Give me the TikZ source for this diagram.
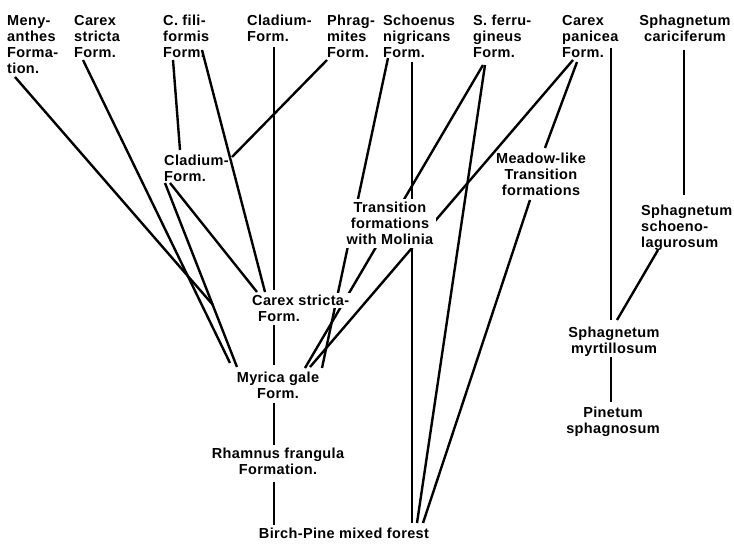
\documentclass[tikz,border=0pt]{standalone}
\usepackage{fontspec}
\newfontfamily\lblfam{Liberation Sans}[LetterSpace=2.5]
\usetikzlibrary{backgrounds,calc}
\newcommand\lblfont{\lblfam\bfseries\fontsize{14.5}{16}\selectfont}
\begin{document}
\begin{tikzpicture}[x=1pt,y=-1pt,
  lbl/.style={font=\lblfont, inner sep=0pt, align=left, anchor=north west},
  lblc/.style={font=\lblfont, inner sep=0pt, align=center, anchor=north},
  conn/.style={line width=2.4pt, black}]
\useasboundingbox (0,0) rectangle (734,545);
% top row
\node[lbl] (men)  at (7,15)   {Meny-\\anthes\\Forma-\\tion.};
\node[lbl] (cs1)  at (74,15)  {Carex\\stricta\\Form.};
\node[lbl] (cfil) at (163,15) {C. fili-\\formis\\Form.};
\node[lbl] (cl1)  at (247,15) {Cladium-\\Form.};
\node[lbl] (phr)  at (327,15) {Phrag-\\mites\\Form.};
\node[lbl] (sch)  at (383,15) {Schoenus\\nigricans\\Form.};
\node[lbl] (sfe)  at (473,15) {S. ferru-\\gineus\\Form.};
\node[lbl] (cpa)  at (562,15) {Carex\\panicea\\Form.};
\node[lblc] (scar) at (685,15) {Sphagnetum\\cariciferum};
% middle
\node[lbl] (cl2)  at (164,155) {Cladium-\\Form.};
\node[lbl] (csf)  at (250,293) {\fboxsep=2pt\colorbox{white}{Carex stricta-}\\\hspace*{8pt}Form.};
\node[lblc, fill=white, inner sep=3pt] (mol) at (390,199) {Transition\\formations\\with Molinia};
\node[lblc] (mea) at (541,153) {Meadow-like\\Transition\\formations};
\node[lblc] (myr) at (278,372) {Myrica gale\\Form.};
\node[lblc] (rha) at (278,448) {Rhamnus frangula\\Formation.};
\node[lblc] (bir) at (344,528) {Birch-Pine mixed forest};
\node[lbl] (ssch) at (641,205) {Sphagnetum\\schoeno-\\lagurosum};
\node[lblc] (smyr) at (614,327) {Sphagnetum\\myrtillosum};
\node[lblc] (pin) at (613,407) {Pinetum\\sphagnosum};
\begin{pgfonlayer}{background}
\fill[white] (0,0) rectangle (734,545);
\draw[conn] ([shift={(8,62)}]men.north west) -- ([shift={(49,150)}]cl2.north west);
\draw[conn] ([shift={(9,45)}]cs1.north west) -- ([shift={(-48,-9)}]myr.north);
\draw[conn] ([shift={(10,45)}]cfil.north west) -- ([shift={(16,-5)}]cl2.north west);
\draw[conn] ([shift={(39,35)}]cfil.north west) -- ([shift={(15,-1)}]csf.north west);
\draw[conn] ([shift={(27,32)}]cl1.north west) -- ([shift={(24,-3)}]csf.north west);
\draw[conn] ([shift={(0,45)}]phr.north west) -- ([shift={(68,2)}]cl2.north west);
\draw[conn] ([shift={(1,28)}]cl2.north west) -- ([shift={(-41,-5)}]myr.north);
\draw[conn] ([shift={(6,28)}]cl2.north west) -- ([shift={(7,-1)}]csf.north west);
\draw[conn] ([shift={(24,32)}]csf.north west) -- ([shift={(-4,-7)}]myr.north);
\draw[conn] ([shift={(-4,31)}]myr.north) -- ([shift={(-4,-3)}]rha.north);
\draw[conn] ([shift={(-4,34)}]rha.north) -- ([shift={(-70,-3)}]bir.north);
\draw[conn] ([shift={(5,43)}]sch.north west) -- ([shift={(44,-4)}]myr.north);
\draw[conn] ([shift={(29,47)}]sch.north west) -- ([shift={(68,-5)}]bir.north);
\draw[conn] ([shift={(10,50)}]sfe.north west) -- ([shift={(27,-4)}]myr.north);
\draw[conn] ([shift={(12,50)}]sfe.north west) -- ([shift={(73,-5)}]bir.north);
\draw[conn] ([shift={(11,45)}]cpa.north west) -- ([shift={(32,-5)}]myr.north);
\draw[conn] ([shift={(15,47)}]cpa.north west) -- ([shift={(4,-5)}]mea.north);
\draw[conn] ([shift={(-11,47)}]mea.north) -- ([shift={(79,-5)}]bir.north);
\draw[conn] ([shift={(49,33)}]cpa.north west) -- ([shift={(-3,-7)}]smyr.north);
\draw[conn] ([shift={(-1,35)}]scar.north) -- ([shift={(43,-10)}]ssch.north west);
\draw[conn] ([shift={(17,45)}]ssch.north west) -- ([shift={(3,-7)}]smyr.north);
\draw[conn] ([shift={(-3,30)}]smyr.north) -- ([shift={(-2,-5)}]pin.north);
\end{pgfonlayer}
\end{tikzpicture}
\end{document}
